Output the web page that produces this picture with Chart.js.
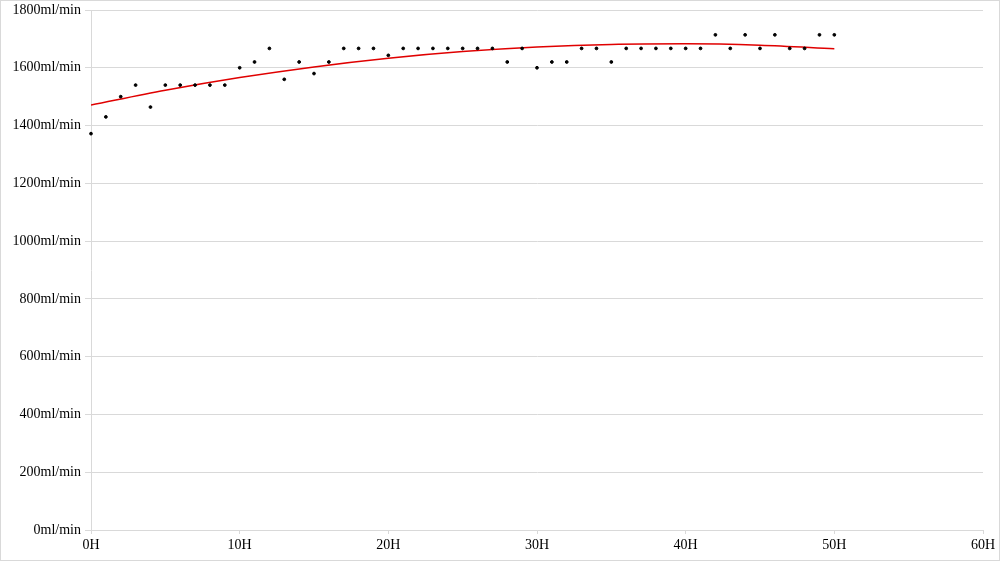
<!DOCTYPE html>
<html>
<head>
<meta charset="utf-8">
<script src="https://cdn.jsdelivr.net/npm/chart.js@4.4.1/dist/chart.umd.min.js"></script>
<style>
  html, body { margin: 0; padding: 0; background: #fff; }
  #wrap { width: 1000px; height: 561px; box-sizing: border-box; border: 1px solid #d9d9d9; }
</style>
</head>
<body>
<div id="wrap"><canvas id="flowChart" width="998" height="559"></canvas></div>
<script>
const hours = [0,1,2,3,4,5,6,7,8,9,10,11,12,13,14,15,16,17,18,19,20,21,22,23,24,25,26,27,28,29,30,31,32,33,34,35,36,37,38,39,40,41,42,43,44,45,46,47,48,49,50];
const flow = [1372,1430,1500,1540,1464,1540,1540,1540,1540,1540,1600,1620,1667,1560,1620,1580,1620,1667,1667,1667,1643,1667,1667,1667,1667,1667,1667,1667,1620,1667,1600,1620,1620,1667,1667,1620,1667,1667,1667,1667,1667,1667,1714,1667,1714,1667,1714,1667,1667,1714,1714];

// trend curve
const trendHours = [0,5,10,15,20,25,30,35,40,45,50];
const trendFlow = [1471,1522,1566,1603,1633,1656,1672,1681,1683,1678,1666];

const yTicks = [0,200,400,600,800,1000,1200,1400,1600,1800];
const xTicks = [0,10,20,30,40,50,60];

const font = { family: "'Liberation Serif', 'Times New Roman', serif", size: 14 };
const gridGrey = '#d9d9d9';

new Chart(document.getElementById('flowChart'), {
  type: 'scatter',
  data: {
    datasets: [
      {
        label: 'flow',
        data: hours.map((h, i) => ({ x: h, y: flow[i] })),
        backgroundColor: '#000',
        borderColor: '#000',
        pointRadius: 1.4,
        pointHoverRadius: 1.4,
        clip: false
      },
      {
        label: 'trend',
        data: trendHours.map((h, i) => ({ x: h, y: trendFlow[i] })),
        showLine: true,
        borderColor: '#e00000',
        borderWidth: 1.5,
        pointRadius: 0,
        tension: 0.4,
        cubicInterpolationMode: 'monotone'
      }
    ]
  },
  options: {
    responsive: false,
    animation: false,
    layout: { padding: { top: 0, right: 16, left: 0, bottom: 0 } },
    plugins: {
      legend: { display: false },
      tooltip: { enabled: false }
    },
    scales: {
      x: {
        type: 'linear',
        min: 0,
        max: 60,
        afterBuildTicks: s => { s.ticks = xTicks.map(v => ({ value: v })); },
        afterFit: s => { s.height = 30; },
        grid: { drawOnChartArea: false, drawTicks: true, tickLength: 4, color: gridGrey },
        border: { display: true, color: gridGrey },
        ticks: { color: '#000', font: font, padding: 3, maxRotation: 0, callback: v => v + 'H' }
      },
      y: {
        min: 0,
        max: 1800,
        afterBuildTicks: s => { s.ticks = yTicks.map(v => ({ value: v })); },
        afterFit: s => { s.width = 90; s.paddingTop = 9; s.paddingBottom = 0; },
        grid: { color: gridGrey, tickLength: 6 },
        border: { display: true, color: gridGrey },
        ticks: { color: '#000', font: font, padding: 4, callback: v => v + 'ml/min' }
      }
    }
  }
});
</script>
</body>
</html>
